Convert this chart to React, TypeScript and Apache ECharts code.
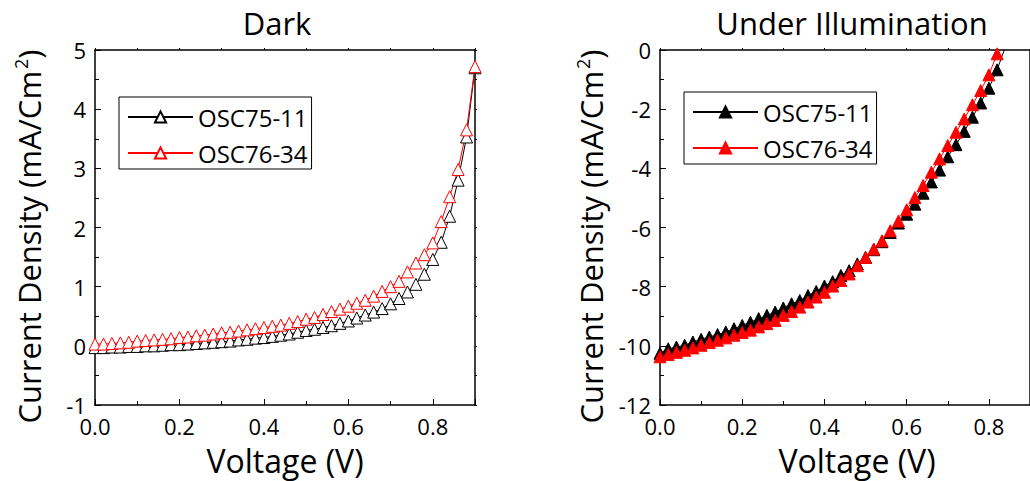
import React, { useEffect, useRef } from "react";
import * as echarts from "echarts";

const darkVoltage = [
  0.0, 0.02, 0.04, 0.06, 0.08, 0.1, 0.12, 0.14, 0.16, 0.18, 0.2, 0.22, 0.24, 0.26, 0.28, 0.3,
  0.32, 0.34, 0.36, 0.38, 0.4, 0.42, 0.44, 0.46, 0.48, 0.5, 0.52, 0.54, 0.56, 0.58, 0.6, 0.62,
  0.64, 0.66, 0.68, 0.7, 0.72, 0.74, 0.76, 0.78, 0.8, 0.82, 0.84, 0.86, 0.88, 0.9,
];
const dark75 = [
  -0.03, -0.03, -0.02, -0.02, -0.01, -0.01, 0.0, 0.0, 0.01, 0.02, 0.02, 0.03, 0.04, 0.05, 0.06, 0.07,
  0.08, 0.1, 0.11, 0.13, 0.14, 0.16, 0.18, 0.2, 0.23, 0.26, 0.28, 0.31, 0.34, 0.38, 0.42, 0.47,
  0.52, 0.57, 0.63, 0.71, 0.8, 0.91, 1.04, 1.21, 1.46, 1.75, 2.19, 2.8, 3.53, 4.7,
];
const dark76 = [
  0.03, 0.03, 0.04, 0.05, 0.06, 0.08, 0.09, 0.1, 0.11, 0.12, 0.14, 0.15, 0.17, 0.18, 0.2, 0.22,
  0.23, 0.25, 0.27, 0.29, 0.31, 0.33, 0.35, 0.38, 0.41, 0.45, 0.48, 0.53, 0.58, 0.62, 0.67, 0.72,
  0.77, 0.84, 0.92, 1.0, 1.09, 1.25, 1.4, 1.54, 1.74, 2.1, 2.52, 2.98, 3.65, 4.72,
];

const illumVoltage = [
  0.0, 0.02, 0.04, 0.06, 0.08, 0.1, 0.12, 0.14, 0.16, 0.18, 0.2, 0.22, 0.24, 0.26, 0.28, 0.3,
  0.32, 0.34, 0.36, 0.38, 0.4, 0.42, 0.44, 0.46, 0.48, 0.5, 0.52, 0.54, 0.56, 0.58, 0.6, 0.62,
  0.64, 0.66, 0.68, 0.7, 0.72, 0.74, 0.76, 0.78, 0.8, 0.82, 0.84,
];
const illum75 = [
  -10.25, -10.1, -10.04, -9.98, -9.87, -9.78, -9.7, -9.62, -9.53, -9.42, -9.31, -9.2, -9.08, -8.97,
  -8.86, -8.72, -8.58, -8.47, -8.3, -8.16, -7.98, -7.83, -7.62, -7.46, -7.23, -7.01, -6.75, -6.48,
  -6.17, -5.85, -5.55, -5.21, -4.84, -4.46, -4.06, -3.61, -3.2, -2.75, -2.27, -1.79, -1.29, -0.67,
  0.1,
];
const illum76 = [
  -10.37, -10.29, -10.22, -10.15, -10.07, -9.98, -9.89, -9.81, -9.73, -9.64, -9.55, -9.47, -9.36,
  -9.25, -9.14, -8.97, -8.84, -8.69, -8.52, -8.35, -8.19, -7.98, -7.79, -7.57, -7.29, -7.01, -6.73,
  -6.45, -6.11, -5.78, -5.4, -4.99, -4.58, -4.13, -3.68, -3.23, -2.78, -2.33, -1.85, -1.37, -0.84,
  -0.13, 0.45,
];

const legendLabels: Record<string, string> = {
  d75: "OSC75-11",
  d76: "OSC76-34",
  i75: "OSC75-11",
  i76: "OSC76-34",
};

const FONT = "Open Sans";

const pairs = (xs: number[], ys: number[]) => xs.map((x, i) => [x, ys[i]]);

export default function App() {
  const ref = useRef<HTMLDivElement>(null);
  useEffect(() => {
    if (!ref.current) return;
    const chart = echarts.init(ref.current, null, { renderer: "svg" });

    const axisLine = { show: true, onZero: false, lineStyle: { color: "#000", width: 1.5 } };
    const tick = { show: true, inside: true, length: 6, lineStyle: { color: "#000", width: 1 } };
    const minor = { show: true, splitNumber: 2, length: 4, lineStyle: { color: "#000", width: 1 } };
    const outTick = { show: true, inside: false, length: 2, lineStyle: { color: "#000", width: 1 } };
    const outMinor = { show: true, splitNumber: 2, length: 2, lineStyle: { color: "#000", width: 1 } };
    const label = { color: "#000", fontFamily: FONT, fontSize: 22 };
    const nameStyle = {
      color: "#000",
      fontFamily: FONT,
      fontSize: 31,
      padding: [0, 18, 0, 0],
      rich: {
        sup: { fontSize: 18, verticalAlign: "top", color: "#000", fontFamily: FONT, padding: [0, 0, 16, 2] },
      },
    };

    const xMain = (gridIndex: number, max: number, shift: number) => ({
      type: "value",
      gridIndex,
      min: 0,
      max,
      interval: 0.2,
      position: "bottom",
      axisLine,
      axisTick: tick,
      minorTick: minor,
      splitLine: { show: false },
      axisLabel: { ...label, margin: 10, showMaxLabel: false, formatter: (v: number) => v.toFixed(1) },
      name: "Voltage (V)",
      nameLocation: "middle",
      nameGap: 39,
      nameTextStyle: { color: "#000", fontFamily: FONT, fontSize: 32, padding: [0, 0, 0, shift] },
    });
    const xTop = (gridIndex: number, max: number) => ({
      type: "value",
      gridIndex,
      min: 0,
      max,
      interval: 0.2,
      position: "top",
      axisLine,
      axisTick: outTick,
      minorTick: outMinor,
      splitLine: { show: false },
      axisLabel: { show: false },
    });
    const yMain = (gridIndex: number, min: number, max: number, interval: number, gap: number) => ({
      type: "value",
      gridIndex,
      min,
      max,
      interval,
      position: "left",
      axisLine,
      axisTick: tick,
      minorTick: minor,
      splitLine: { show: false },
      axisLabel: { ...label, margin: 9 },
      name: "Current Density (mA/Cm{sup|2})",
      nameLocation: "middle",
      nameGap: gap,
      nameTextStyle: nameStyle,
    });
    const yRight = (gridIndex: number, min: number, max: number, interval: number) => ({
      type: "value",
      gridIndex,
      min,
      max,
      interval,
      position: "right",
      axisLine,
      axisTick: outTick,
      minorTick: outMinor,
      splitLine: { show: false },
      axisLabel: { show: false },
    });

    const lineSeries = (
      name: string,
      xi: number,
      yi: number,
      data: number[][],
      color: string,
      filled: boolean
    ) => ({
      type: "line",
      name,
      xAxisIndex: xi,
      yAxisIndex: yi,
      data,
      symbol: "triangle",
      symbolSize: 12,
      showAllSymbol: true,
      clip: true,
      lineStyle: { color, width: 1 },
      itemStyle: { color: filled ? color : "#fff", borderColor: color, borderWidth: 1 },
      emphasis: { disabled: true },
    });

    const legendBase = {
      orient: "vertical",
      backgroundColor: "#fff",
      borderColor: "#000",
      borderWidth: 1,
      borderRadius: 0,
      itemWidth: 65,
      itemHeight: 14,
      itemGap: 12,
      padding: [8, 4, 4, 8],
      textStyle: { color: "#000", fontFamily: FONT, fontSize: 24, lineHeight: 24 },
      formatter: (n: string) => legendLabels[n],
      selectedMode: false,
    };

    const titleStyle = { color: "#000", fontFamily: FONT, fontSize: 31, fontWeight: "normal" };

    chart.setOption({
      animation: false,
      backgroundColor: "#fff",
      title: [
        { text: "Dark", left: 272, top: 2, textAlign: "center", textStyle: titleStyle },
        { text: "Under Illumination", left: 847, top: 2, textAlign: "center", textStyle: titleStyle },
      ],
      grid: [
        { left: 95, top: 50, width: 380, height: 357 },
        { left: 660, top: 50, width: 380, height: 357 },
      ],
      xAxis: [xMain(0, 0.9, 0), xTop(0, 0.9), xMain(1, 0.9, 24), xTop(1, 0.9)],
      yAxis: [
        yMain(0, -1, 5, 1, 49),
        yRight(0, -1, 5, 1),
        yMain(1, -12, 0, 2, 52),
        yRight(1, -12, 0, 2),
      ],
      legend: [
        { ...legendBase, data: ["d75", "d76"], left: 119, top: 97 },
        { ...legendBase, data: ["i75", "i76"], left: 684, top: 92 },
      ],
      series: [
        lineSeries("d75", 0, 0, pairs(darkVoltage, dark75), "#000", false),
        lineSeries("d76", 0, 0, pairs(darkVoltage, dark76), "#ff0000", false),
        lineSeries("i75", 2, 2, pairs(illumVoltage, illum75), "#000", true),
        lineSeries("i76", 2, 2, pairs(illumVoltage, illum76), "#ff0000", true),
      ],
    });
    return () => chart.dispose();
  }, []);
  return (
    <div
      ref={ref}
      style={{ position: "absolute", left: 0, top: 0, width: 1030, height: 481 }}
    />
  );
}
